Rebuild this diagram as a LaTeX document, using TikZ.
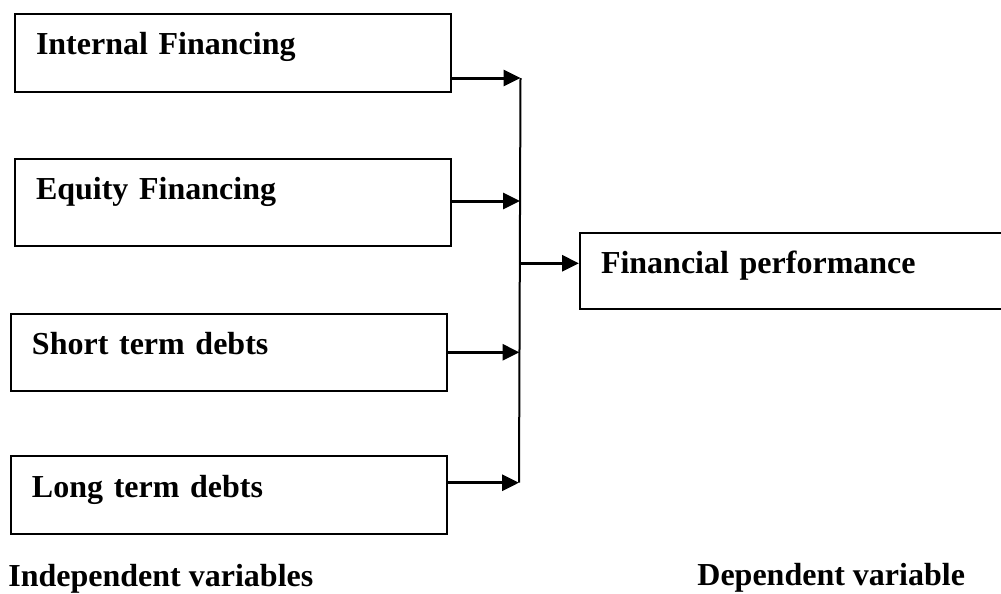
\documentclass[tikz,border=0pt]{standalone}
\usepackage{fontspec}
\setmainfont{Liberation Serif}
\usetikzlibrary{arrows.meta}
\usetikzlibrary{calc}

\tikzset{
 varbox/.style={draw, line width=1pt, anchor=north west, inner xsep=10.5pt, inner ysep=0pt,
   text width=197pt, align=left, text height=20.5pt, text depth=18.5pt,
   font=\bfseries\fontsize{16}{19}\selectfont},
 feed/.style={line width=1.5pt, -{Triangle[length=8.5pt,width=8pt]}},
 caption/.style={anchor=base west, inner sep=0pt, font=\bfseries\fontsize{16}{19}\selectfont}
}

\begin{document}
\begin{tikzpicture}[x=0.5pt,y=-0.5pt]
\useasboundingbox (0,0) rectangle (1001,594);
% independent variables
\node[varbox] (int) at (14,12.5) {Internal Financing};
\node[varbox, text depth=23pt] (eq) at (14,157.7) {Equity Financing};
\node[varbox, text depth=18pt] (st) at (10,312.7) {Short term debts};
\node[varbox] (lt) at (10,455) {Long term debts};
% dependent variable
\node[varbox, text width=191pt, text depth=17.5pt] (perf) at (579,231.7) {Financial performance};
% bus
\coordinate (b1) at (520.5,78);
\coordinate (b2) at (520,201);
\coordinate (b3) at (519.5,352.3);
\coordinate (b4) at (519,482.7);
\coordinate (b0) at (520,263.3);
\draw[line width=1pt] (b1) -- (b4);
\foreach \src/\k in {int/1,eq/2,st/3,lt/4}
 \draw[feed] (\src.east |- b\k) -- (b\k);
\draw[feed] (b0) -- (perf.west |- b0);
% captions
\node[caption] (indep) at (8,586.7) {Independent variables};
\node[caption] (dep) at (697,585) {Dependent variable};
\end{tikzpicture}
\end{document}
